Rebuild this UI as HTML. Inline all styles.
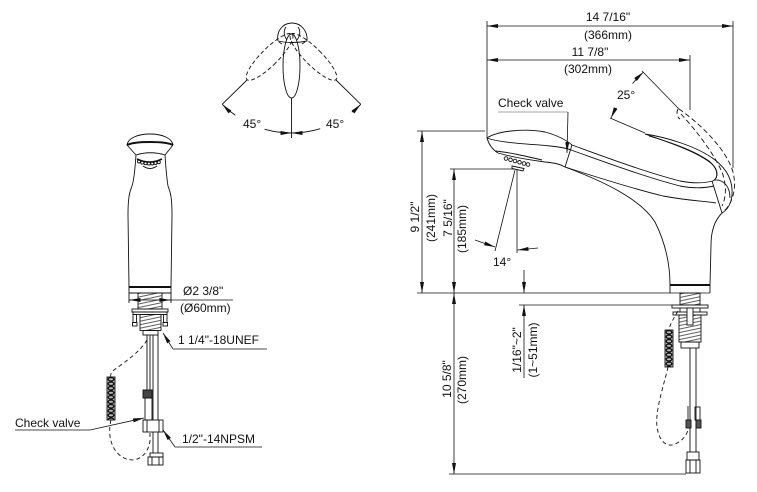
<!DOCTYPE html>
<html><head><meta charset="utf-8"><style>
html,body{margin:0;padding:0;background:#fff;width:757px;height:492px;overflow:hidden}
svg{display:block}
text{font-family:"Liberation Sans",Arial,sans-serif;font-size:12px;fill:#111;stroke:none}
</style></head><body>
<svg width="757" height="492" viewBox="0 0 757 492" xmlns="http://www.w3.org/2000/svg">
<defs>
<marker id="ar" viewBox="0 0 11 4" refX="11" refY="2" markerWidth="11" markerHeight="4" markerUnits="userSpaceOnUse" orient="auto-start-reverse"><path d="M0,0 L11,2 L0,4 z" fill="#111" stroke="none"/></marker>
<pattern id="th" width="6" height="3.5" patternUnits="userSpaceOnUse" patternTransform="skewY(-12)"><path d="M0,1 H6" stroke="#333" stroke-width="0.8"/></pattern>
<pattern id="sn1" width="8" height="4.5" patternUnits="userSpaceOnUse" patternTransform="translate(107,377)"><rect width="8" height="4.5" fill="#bbb"/><ellipse cx="4" cy="2.25" rx="2.8" ry="1.7" fill="none" stroke="#111" stroke-width="1.4"/></pattern>
<pattern id="sn2" width="8" height="4.5" patternUnits="userSpaceOnUse" patternTransform="translate(665,330)"><rect width="8" height="4.5" fill="#bbb"/><ellipse cx="4" cy="2.25" rx="2.8" ry="1.7" fill="none" stroke="#111" stroke-width="1.4"/></pattern>
</defs>

<!-- ===== TOP HANDLE ROTATION DIAGRAM ===== -->
<g fill="none" stroke="#111" stroke-width="0.9">
<path d="M278,41 C276,31 283,23 292,23 C301,23 308,31 307,41"/>
<path d="M278,41 C286,43 298,43 307,41"/>
<path d="M279,42 L282,44 M305,42 L302,44"/>
<path d="M286,27 C283,31 284,36 287,40 M298,27 C301,31 300,36 297,40"/>
<ellipse cx="291.5" cy="66" rx="8.5" ry="32"/>
<g stroke-dasharray="4,2.5">
<ellipse cx="291.5" cy="66" rx="8.5" ry="32" transform="rotate(45 291.5 35)"/>
<ellipse cx="291.5" cy="66" rx="8.5" ry="32" transform="rotate(-45 291.5 35)"/>
</g>
<path d="M247,80 L222.2,104.3 M336,80 L360.8,104.3 M291.5,98 L291.5,138"/>
<path d="M235.3,115.3 A98,98 0 0 1 222.2,104.3" marker-end="url(#ar)"/>
<path d="M264.5,129.2 A98,98 0 0 0 291.5,133" marker-end="url(#ar)"/>
<path d="M320.2,128.7 A98,98 0 0 1 291.5,133" marker-end="url(#ar)"/>
<path d="M351.8,112.2 A98,98 0 0 0 360.8,104.3" marker-end="url(#ar)"/>
</g>
<text x="243" y="128">45°</text>
<text x="326" y="128">45°</text>

<!-- ===== LEFT FRONT VIEW ===== -->
<g fill="none" stroke="#111" stroke-width="0.9">
<path d="M127,145 C128,138 138,134 150,134 C162,134 172,138 173,145"/>
<path d="M127,145 C135,141 165,141 173,145" stroke-width="2"/>
<path d="M127,145 L136,155 M173,145 L165,155"/>
<path d="M136,155 C145,152 156,152 165,155"/>
<path d="M137,159 Q149.5,165 162,159" stroke-width="1.6"/>
<g stroke-width="0.9">
<circle cx="139" cy="161.5" r="1.5"/><circle cx="142.3" cy="162.6" r="1.5"/><circle cx="145.6" cy="163.3" r="1.5"/><circle cx="148.9" cy="163.6" r="1.5"/><circle cx="152.2" cy="163.5" r="1.5"/><circle cx="155.5" cy="163" r="1.5"/><circle cx="158.8" cy="162.2" r="1.5"/>
</g>
<path d="M143,166 Q150,171 157,166"/>
<path d="M136,155 C135,170 134,180 132,186 C129,193 128,200 128,215 L129,287"/>
<path d="M165,155 C166,170 167,180 168,186 C171,193 172,200 172,215 L171,287"/>
<path d="M129,287 H171" stroke-width="2"/>
<path d="M129,287 V303 M171,287 V303 M129,293 H171"/>
<rect x="138" y="293" width="24" height="16" fill="url(#th)"/>
<path d="M129,300 H233" stroke-width="0.8"/>
<path d="M140,300 L129.5,300" marker-end="url(#ar)"/>
<path d="M160,300 L170.5,300" marker-end="url(#ar)"/>
<rect x="132" y="309" width="36" height="3"/>
<rect x="133" y="312" width="34" height="2.5"/>
<rect x="140" y="314.5" width="21" height="16" fill="url(#th)"/>
<rect x="133" y="314.5" width="3.5" height="8"/><rect x="132.5" y="322.5" width="4.5" height="3.5"/>
<rect x="163.5" y="314.5" width="3.5" height="8"/><rect x="163" y="322.5" width="4.5" height="3.5"/>
<rect x="143" y="330.5" width="15" height="4.5"/>
<path d="M147,335 V390 M150,335 V390"/>
<path d="M153,335 V420 M158,335 V420"/>
<rect x="143" y="390" width="9" height="8" fill="#444"/>
<rect x="145" y="398" width="7" height="22"/>
<rect x="143" y="420" width="20" height="12"/>
<path d="M147,420 V432 M159,420 V432"/>
<path d="M153,432 V453 M158,432 V453"/>
<rect x="150" y="453" width="13" height="4"/>
<rect x="148" y="457" width="15" height="8"/>
<path d="M152,457 V465 M159,457 V465"/>
<rect x="107" y="377" width="8" height="43" fill="url(#sn1)"/>
<path stroke-dasharray="4,3" d="M147,340 C140,352 125,362 114,370 C111,373 110,375 111,377"/>
<path stroke-dasharray="4,3" d="M111,420 C107,436 112,452 124,458 C137,464 148,455 150,441 L150,432"/>
<path d="M15,430 H90 L144,418" stroke-width="0.8" marker-end="url(#ar)"/>
<path d="M267,349 H173 L163,333" stroke-width="0.8" marker-end="url(#ar)"/>
<path d="M262,447 H175 L163,430" stroke-width="0.8" marker-end="url(#ar)"/>
</g>
<text x="183" y="295">Ø2 3/8"</text>
<text x="180" y="312">(Ø60mm)</text>
<text x="178" y="344">1 1/4"-18UNEF</text>
<text x="182" y="443">1/2"-14NPSM</text>
<text x="15" y="427">Check valve</text>

<!-- ===== RIGHT SIDE VIEW: DIMENSIONS ===== -->
<g fill="none" stroke="#111" stroke-width="0.8">
<path d="M487,21 V138"/>
<path d="M733,21 V168"/>
<path d="M690,55 V110"/>
<path d="M487,26 H733" marker-start="url(#ar)" marker-end="url(#ar)"/>
<path d="M487,60 H690" marker-start="url(#ar)" marker-end="url(#ar)"/>
<path d="M642,71 L679,109"/>
<path d="M610,118 L645,133"/>
<path d="M632.5,83.6 A139,139 0 0 1 643.5,72" marker-end="url(#ar)"/>
<path d="M616.3,107.8 A139,139 0 0 0 611,118" marker-end="url(#ar)"/>
<path d="M417,131 H485"/>
<path d="M422,131 V293" marker-start="url(#ar)" marker-end="url(#ar)"/>
<path d="M450,169 H515"/>
<path d="M454,169 V293" marker-start="url(#ar)" marker-end="url(#ar)"/>
<path d="M417,293 H710"/>
<path d="M519,305 H672"/>
<path d="M524,270 V293" marker-end="url(#ar)"/>
<path d="M524,378 V305" marker-end="url(#ar)"/>
<path d="M454,293 V474" marker-start="url(#ar)" marker-end="url(#ar)"/>
<path d="M449,474 H686"/>
<path d="M517,169 V253"/>
<path d="M515,170 L495,251"/>
<path d="M475,240 L495,247" marker-end="url(#ar)"/>
<path d="M538,248 L517.5,250" marker-end="url(#ar)"/>
<path d="M498,112 H568" stroke="#888"/>
<path d="M568,112 L567,153" marker-end="url(#ar)"/>
</g>
<text x="608" y="21" text-anchor="middle">14 7/16"</text>
<text x="608" y="39" text-anchor="middle">(366mm)</text>
<text x="590" y="56" text-anchor="middle">11 7/8"</text>
<text x="588" y="73" text-anchor="middle">(302mm)</text>
<text x="617" y="99">25°</text>
<text x="498" y="107">Check valve</text>
<text x="493" y="266">14°</text>
<text transform="translate(419,217) rotate(-90)" text-anchor="middle">9 1/2"</text>
<text transform="translate(435,218) rotate(-90)" text-anchor="middle">(241mm)</text>
<text transform="translate(452,218) rotate(-90)" text-anchor="middle">7 5/16"</text>
<text transform="translate(466,229) rotate(-90)" text-anchor="middle">(185mm)</text>
<text transform="translate(451,379) rotate(-90)" text-anchor="middle">10 5/8"</text>
<text transform="translate(466,380) rotate(-90)" text-anchor="middle">(270mm)</text>
<text transform="translate(521,350) rotate(-90)" text-anchor="middle">1/16"~2"</text>
<text transform="translate(537,350) rotate(-90)" text-anchor="middle">(1~51mm)</text>

<!-- ===== RIGHT SIDE VIEW: FAUCET BODY ===== -->
<g fill="none" stroke="#111" stroke-width="0.9">
<path d="M487,138 C497,131 525,128 545,132 C556,135 565,139 572,145"/>
<path d="M487,138 C500,143 530,144 550,146 C560,147 566,148 571,150"/>
<path d="M487,138 C489,145 493,150 498,153 C512,157 530,160 545,162 C555,163 560,164 565,167"/>
<path d="M495,151 C508,152 525,156 542,160"/>
<g stroke-width="0.9">
<circle cx="506" cy="158.5" r="1.8"/><circle cx="510.5" cy="159.8" r="1.8"/><circle cx="515" cy="161" r="1.8"/><circle cx="519.5" cy="162.3" r="1.8"/><circle cx="524" cy="163.5" r="1.8"/><circle cx="528" cy="164.5" r="1.8"/>
</g>
<path d="M512,166 L524,168.5 L523,171 L512,168.5 z"/>
<path d="M572,145 L565,167"/>
<path d="M572,145 C605,157 645,172 680,181 C695,184 705,183 713,181"/>
<path d="M571,150 C605,162 645,177 680,186 C695,189 705,188 714,186"/>
<path d="M565,167 C590,175 630,188 663,196 C690,201 705,201 716,203"/>
<path d="M565,167 C600,180 640,198 655,222 C665,242 670,262 670,285"/>
<path d="M722,213 C715,220 711,230 711,245 L710,285"/>
<path d="M645,134 C665,137 697,146 715,160 C728,170 733,182 732,195 C731,205 727,210 722,213"/>
<path d="M645,134 C668,142 698,152 712,164 C718,170 719,177 713,181"/>
<path d="M649,136 C670,142 695,151 709,161 C716,167 718,173 716,178"/>
<path d="M712,181 L722,213"/>
<path d="M714,180 C724,179 730,187 730,198"/>
<g stroke-dasharray="5,3">
<path d="M679,109 C698,122 726,148 733,172 C737,188 733,204 722,213"/>
<path d="M681,114 C693,127 712,150 722,172 C727,186 726,198 722,206"/>
<path d="M678,109 C676,113 677,117 680,119"/>
</g>
<path d="M670,285 H710" stroke-width="2"/>
<path d="M670,285 V293 M710,285 V293"/>
<rect x="680" y="293" width="20" height="12" fill="url(#th)"/>
<rect x="672" y="305" width="36" height="3"/>
<path d="M680,308 V312 M700,308 V312"/>
<rect x="673" y="312" width="34" height="3"/>
<rect x="679" y="315" width="22" height="27" fill="url(#th)"/>
<rect x="687" y="308" width="6" height="17" fill="#fff"/>
<rect x="681" y="342" width="18" height="6"/>
<path d="M690,348 V452 M696,348 V452"/>
<path d="M688,406 V420"/>
<rect x="686" y="420" width="5" height="8" fill="#555"/>
<rect x="695" y="407" width="5" height="13"/>
<rect x="696" y="420" width="5" height="8" fill="#555"/>
<rect x="687" y="452" width="12" height="8"/>
<rect x="686" y="460" width="14" height="13"/>
<path d="M690,460 V473 M696,460 V473"/>
<rect x="665" y="330" width="8" height="37" fill="url(#sn2)"/>
<path stroke-dasharray="4,3" d="M678,311 C674,318 670,324 669,330"/>
<path stroke-dasharray="4,3" d="M668,367 C664,385 655,410 657,427 C659,440 665,446 672,445 C680,443 686,437 688,430"/>
</g>
</svg>
</body></html>
